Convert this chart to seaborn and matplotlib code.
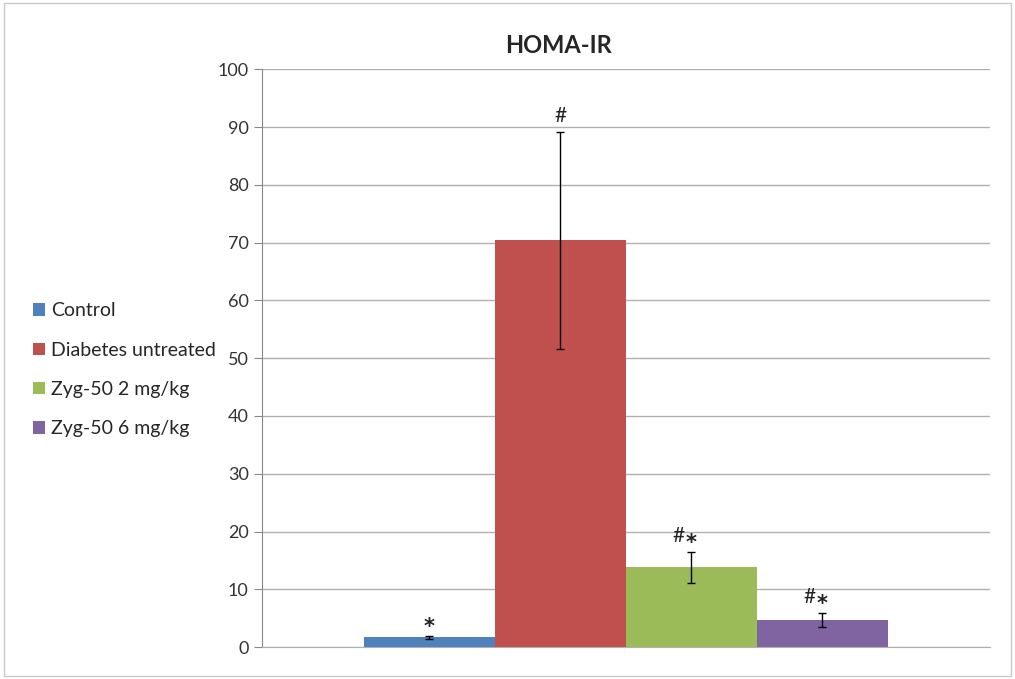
import matplotlib
matplotlib.use('Agg')
import matplotlib.pyplot as plt
import numpy as np
import pandas as pd
import seaborn as sns

groups = ['Control', 'Diabetes untreated', 'Zyg-50 2 mg/kg', 'Zyg-50 6 mg/kg']
means = [1.7, 70.4, 13.8, 4.7]
errors = [0.3, 18.8, 2.7, 1.2]
marks = ['*', '#', '#*', '#*']
colors = ['#4F81BD', '#C0504D', '#9BBB59', '#8064A2']


def setup():
    sns.set_style('white')
    plt.rcParams['font.family'] = ['Lato', 'DejaVu Sans']


def show_homa():
    df = pd.DataFrame({'x': ['HOMA-IR'] * len(groups), 'group': groups, 'value': means})

    fig = plt.figure(figsize=(10.15, 6.79), dpi=100)
    ax = fig.add_axes([0.258, 0.047, 0.717, 0.851])

    sns.barplot(data=df, x='x', y='value', hue='group', hue_order=groups,
                palette=colors, width=0.72, errorbar=None, saturation=1,
                linewidth=0, ax=ax, legend=True)

    bars = [p for p in ax.patches if p.get_height() > 0][:len(groups)]
    for bar, m, e, lab in zip(bars, means, errors, marks):
        cx = bar.get_x() + bar.get_width() / 2
        ax.errorbar(cx, m, yerr=e, fmt='none', ecolor='black', elinewidth=1,
                    capsize=3, capthick=1)
        top = m + e
        if '*' in lab:
            ax.annotate('*', (cx, top), xytext=(0, -1), textcoords='offset points',
                        ha='center', va='bottom', fontsize=15, color='#222222',
                        family='DejaVu Sans', fontweight='bold')
        if '#' in lab:
            dx = -9 if '*' in lab else 0
            ax.annotate('#', (cx, top), xytext=(dx, 4), textcoords='offset points',
                        ha='center', va='bottom', fontsize=15, color='#222222')

    ax.set_ylim(0, 100)
    ax.set_xlim(-0.5, 0.5)
    ax.set_yticks(np.arange(0, 101, 10))
    ax.tick_params(axis='y', labelsize=13, colors='#333333', length=6, direction='out', left=True,
                   color='#888888')
    ax.set_xticks([])
    ax.set_xlabel('')
    ax.set_ylabel('')
    ax.yaxis.grid(True, color='#b0b0b0', linewidth=1)
    ax.set_axisbelow(True)
    for s in ['top', 'right']:
        ax.spines[s].set_visible(False)
    ax.spines['left'].set_color('#888888')
    ax.spines['bottom'].set_color('#b0b0b0')

    ax.set_title('HOMA-IR', fontsize=17, fontweight='bold', pad=12, x=0.407)

    ax.legend(loc='center left', bbox_to_anchor=(-0.325, 0.48), frameon=False,
              fontsize=14, handlelength=0.6, handleheight=0.6, handletextpad=0.3,
              labelspacing=1.15, borderaxespad=0)

    fig.patches.append(plt.Rectangle((0.004, 0.004), 0.992, 0.992, transform=fig.transFigure,
                                     fill=False, edgecolor='#c8c8c8', linewidth=1))

    fig.savefig('out.png', dpi=100)
    plt.close()


setup()
show_homa()
